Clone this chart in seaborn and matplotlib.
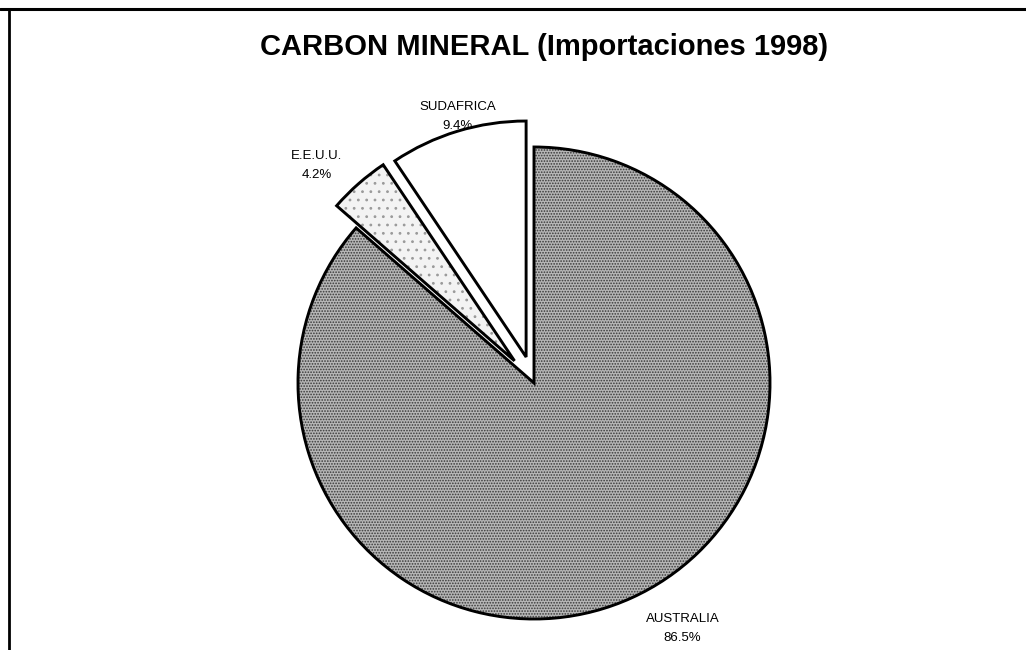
import numpy as np
import matplotlib
matplotlib.use("Agg")
import matplotlib.pyplot as plt
from matplotlib.lines import Line2D
import seaborn as sns

sns.set_style("white")
plt.rcParams["font.family"] = ["Liberation Sans", "DejaVu Sans"]
plt.rcParams["text.color"] = "black"
plt.rcParams["hatch.linewidth"] = 0.8

# Coal imports 1998, share by origin (%)
countries = ["AUSTRALIA", "E.E.U.U.", "SUDAFRICA"]
shares = [86.5, 4.2, 9.4]
explode = [0.0, 0.125, 0.115]        # fraction of the radius
label_dist = [1.215, 1.18, 1.06]     # fraction of the radius
label_turn = [6.7, 4.0, -1.0]        # degrees off the wedge bisector

face = ["#b6b6b6", "#f3f3f3", "#ffffff"]
hatch = ["......", "..", None]
hatch_ink = ["#383838", "#9a9a9a", "#ffffff"]

W, H = 1026, 650
fig = plt.figure(figsize=(W / 100, H / 100), dpi=100)
ax = fig.add_axes([0, 0, 1, 1])

center = (534, H - 383)
radius = 236
offsets = [e * radius for e in explode]

# textured fill layer
wedges, _ = ax.pie(shares, explode=offsets, startangle=90, counterclock=False,
                   center=center, radius=radius, frame=True,
                   wedgeprops=dict(linewidth=0))
for w, fc, hp, hc in zip(wedges, face, hatch, hatch_ink):
    w.set_facecolor(fc)
    w.set_edgecolor(hc)
    if hp:
        w.set_hatch(hp)

# outline layer
outl, _ = ax.pie(shares, explode=offsets, startangle=90, counterclock=False,
                 center=center, radius=radius, frame=True,
                 wedgeprops=dict(linewidth=2.1, edgecolor="black", fill=False))

ax.set_xlim(0, W)
ax.set_ylim(0, H)
ax.set_aspect("equal")
ax.axis("off")

for w, name, val, d, t in zip(outl, countries, shares, label_dist, label_turn):
    mid = np.deg2rad((w.theta1 + w.theta2) / 2 + t)
    cx, cy = w.center
    x = cx + d * radius * np.cos(mid)
    y = cy + d * radius * np.sin(mid)
    ax.text(x, y, f"{name}\n{val:.1f}%", ha="center", va="center",
            fontsize=9.5, linespacing=1.75, color="black")

fig.text(544 / W, 1 - 47 / H, "CARBON MINERAL (Importaciones 1998)",
         ha="center", va="center", fontsize=21, fontweight="bold",
         color="black")

# frame lines along top and left edges
fig.add_artist(Line2D([0, 1], [1 - 8.5 / H, 1 - 8.5 / H], color="black",
                      lw=2.2, transform=fig.transFigure))
fig.add_artist(Line2D([8.5 / W, 8.5 / W], [0, 1 - 8.5 / H], color="black",
                      lw=2.0, transform=fig.transFigure))

fig.savefig("out.png", dpi=100, facecolor="white")
